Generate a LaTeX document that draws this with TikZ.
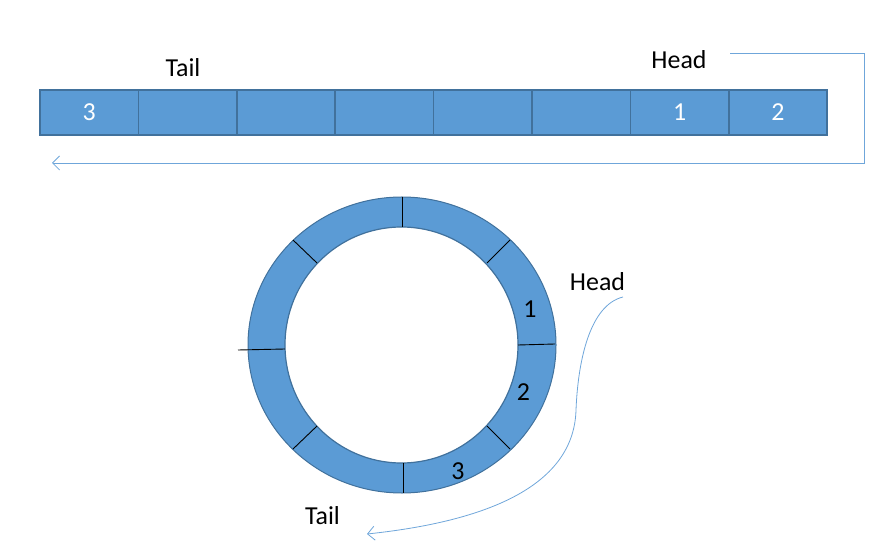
\documentclass[tikz,border=0pt]{standalone}
\usepackage{fontspec}
\setmainfont{Carlito}
\usetikzlibrary{arrows.meta}
\definecolor{cellfill}{HTML}{5B9BD5}
\definecolor{celledge}{HTML}{41719C}
\definecolor{arrowc}{HTML}{6FA6DA}
\begin{document}
\begin{tikzpicture}[x=1bp,y=-1bp,
  cell/.style={draw=celledge,fill=cellfill,line width=1.5bp,minimum width=98.4bp,minimum height=45bp,inner sep=0,text=white,font=\fontsize{26}{30}\selectfont},
  lbl/.style={font=\fontsize{26}{30}\selectfont,inner sep=0},
  divider/.style={draw=black,line width=0.9bp},
  conn/.style={draw=arrowc,line width=0.8bp,-{Straight Barb[length=7bp,width=14bp]}}]
\useasboundingbox (0,0) rectangle (870,552);
% top array
\node[cell] (c1) at (89.2,112.5) {3};
\node[cell] (c2) at (187.6,112.5) {};
\node[cell] (c3) at (286,112.5) {};
\node[cell] (c4) at (384.4,112.5) {};
\node[cell] (c5) at (482.8,112.5) {};
\node[cell] (c6) at (581.2,112.5) {};
\node[cell] (c7) at (679.6,112.5) {1};
\node[cell] (c8) at (778,112.5) {2};
\node[lbl] (tail1) at (183,68) {Tail};
\node[lbl] (head1) at (679,60) {Head};
\coordinate (a0) at (730,53);
\coordinate (a1) at (52,163);
\draw[conn] (a0) -- (864,53) -- (864,163) -- (a1);
% ring
\fill[cellfill,even odd rule] (402,345) ellipse [x radius=154bp, y radius=148bp]
  (401.5,345) ellipse [x radius=116.5bp, y radius=118bp];
\draw[celledge,line width=1bp] (402,345) ellipse [x radius=154bp, y radius=148bp];
\draw[celledge,line width=1.2bp] (401.5,345) ellipse [x radius=116.5bp, y radius=118bp];
\draw[divider] (402,197) -- (402,227);
\draw[divider] (487,263) -- (510,240);
\draw[divider] (518,345) -- (555,344);
\draw[divider] (487,426) -- (510,449);
\draw[divider] (403,463) -- (403,493);
\draw[divider] (317,426) -- (293,449);
\draw[divider] (238,350) -- (285,349);
\draw[divider] (317,263) -- (293,240);
\node[lbl] (n1) at (530,309.5) {1};
\node[lbl] (n2) at (523.5,392) {2};
\node[lbl] (n3) at (458,471.5) {3};
\node[lbl] (head2) at (597.5,281.5) {Head};
\node[lbl] (tail2) at (322.5,516) {Tail};
\coordinate (b0) at (623,297);
\coordinate (b1) at (367,534);
\draw[conn] (b0) .. controls (590,305) and (578,360) .. (576,410)
  .. controls (574,480) and (500,520) .. (b1);
\end{tikzpicture}
\end{document}
